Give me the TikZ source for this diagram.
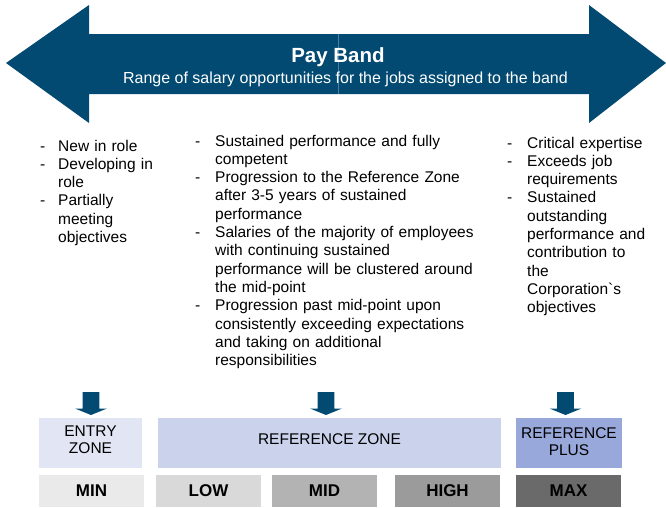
\documentclass[tikz,border=0pt]{standalone}
\usepackage{fontspec}
\setmainfont{Liberation Sans}
\newfontfamily\rawfont[Ligatures=TeXOff]{Liberation Sans}
\definecolor{navy}{HTML}{024A72}
\definecolor{seam}{HTML}{4F7FA0}
\definecolor{entryc}{HTML}{E1E5F4}
\definecolor{refc}{HTML}{CAD2EC}
\definecolor{plusc}{HTML}{98A8DA}
\definecolor{minc}{HTML}{EAEAEA}
\definecolor{lowc}{HTML}{D9D9D9}
\definecolor{midc}{HTML}{B3B3B3}
\definecolor{highc}{HTML}{9B9B9B}
\definecolor{maxc}{HTML}{6A6A6A}
\newcommand{\itm}[1]{\makebox[18pt][l]{-}#1}
\newcommand{\cnt}[1]{\hspace*{18pt}#1}
\newcommand{\itmb}[1]{\makebox[20pt][l]{-}#1}
\newcommand{\cntb}[1]{\hspace*{20pt}#1}
\begin{document}
\begin{tikzpicture}[x=1pt,y=-1pt,
  col/.style={inner sep=0pt, anchor=base west, align=left,
    font=\fontsize{15.5}{18.3}\selectfont},
  zone/.style={inner sep=0pt, minimum height=50pt, align=center,
    font=\fontsize{15.5}{17}\selectfont},
  level/.style={inner sep=0pt, minimum height=32pt,
    font=\bfseries\fontsize{17}{20}\selectfont},
  darr/.pic={\fill[navy] (-8.3,0) -- (8.3,0) -- (8.3,16.5) -- (16,16.5) -- (0,23) -- (-16,16.5) -- (-8.3,16.5) -- cycle;}
]
\useasboundingbox (0,0) rectangle (666,507);
% double arrow
\fill[navy] (6,63) -- (89,5) -- (89,34) -- (589,34) -- (589,5) -- (666,63)
  -- (589,123) -- (589,94) -- (89,94) -- (89,123) -- cycle;
\draw[seam, line width=0.6pt] (338,34) -- (338,94);
\node[text=white, inner sep=0pt, anchor=base, font=\bfseries\fontsize{20.5}{24}\selectfont] (title) at (338,62) {Pay Band};
\node[text=white, inner sep=0pt, anchor=base, font=\fontsize{16}{19}\selectfont] (subtitle) at (345.5,83) {Range of salary opportunities for the jobs assigned to the band};
% columns
\node[col, text width=140pt] (leftcol) at (40,151) {%
\itm{New in role}\\
\itm{Developing in}\\
\cnt{role}\\
\itm{Partially}\\
\cnt{meeting}\\
\cnt{objectives}};
\node[col, text width=300pt] (midcol) at (195,146) {%
\itmb{Sustained performance and fully}\\
\cntb{competent}\\
\itmb{Progression to the Reference Zone}\\
\cntb{after 3-5 years of sustained}\\
\cntb{performance}\\
\itmb{Salaries of the majority of employees}\\
\cntb{with continuing sustained}\\
\cntb{performance will be clustered around}\\
\cntb{the mid-point}\\
\itmb{Progression past mid-point upon}\\
\cntb{consistently exceeding expectations}\\
\cntb{and taking on additional}\\
\cntb{responsibilities}};
\node[col, text width=160pt] (rightcol) at (507,148) {%
\itmb{Critical expertise}\\
\itmb{Exceeds job}\\
\cntb{requirements}\\
\itmb{Sustained}\\
\cntb{outstanding}\\
\cntb{performance and}\\
\cntb{contribution to}\\
\cntb{the}\\
\cntb{Corporation{\rawfont\fontsize{15.5}{18.3}\selectfont\symbol{96}}s}\\
\cntb{objectives}};
% small arrows
\pic at (91,392) {darr};
\pic at (326,392) {darr};
\pic at (565.5,392) {darr};
% zones
\node[zone, fill=entryc, minimum width=103pt, text depth=6pt] (entry) at (90.5,443) {ENTRY\\ZONE};
\node[zone, fill=refc, minimum width=343pt, text depth=8pt] (ref) at (329.5,443) {REFERENCE ZONE};
\node[zone, fill=plusc, minimum width=106pt, text depth=3pt] (plus) at (569,443) {REFERENCE\\PLUS};
% levels
\node[level, fill=minc, minimum width=105pt] (min) at (91.5,491) {MIN};
\node[level, fill=lowc, minimum width=105pt] (low) at (208.5,491) {LOW};
\node[level, fill=midc, minimum width=105pt] (mid) at (324.5,491) {MID};
\node[level, fill=highc, minimum width=105pt] (high) at (447.5,491) {HIGH};
\node[level, fill=maxc, minimum width=105pt] (max) at (568.5,491) {MAX};
\end{tikzpicture}
\end{document}
